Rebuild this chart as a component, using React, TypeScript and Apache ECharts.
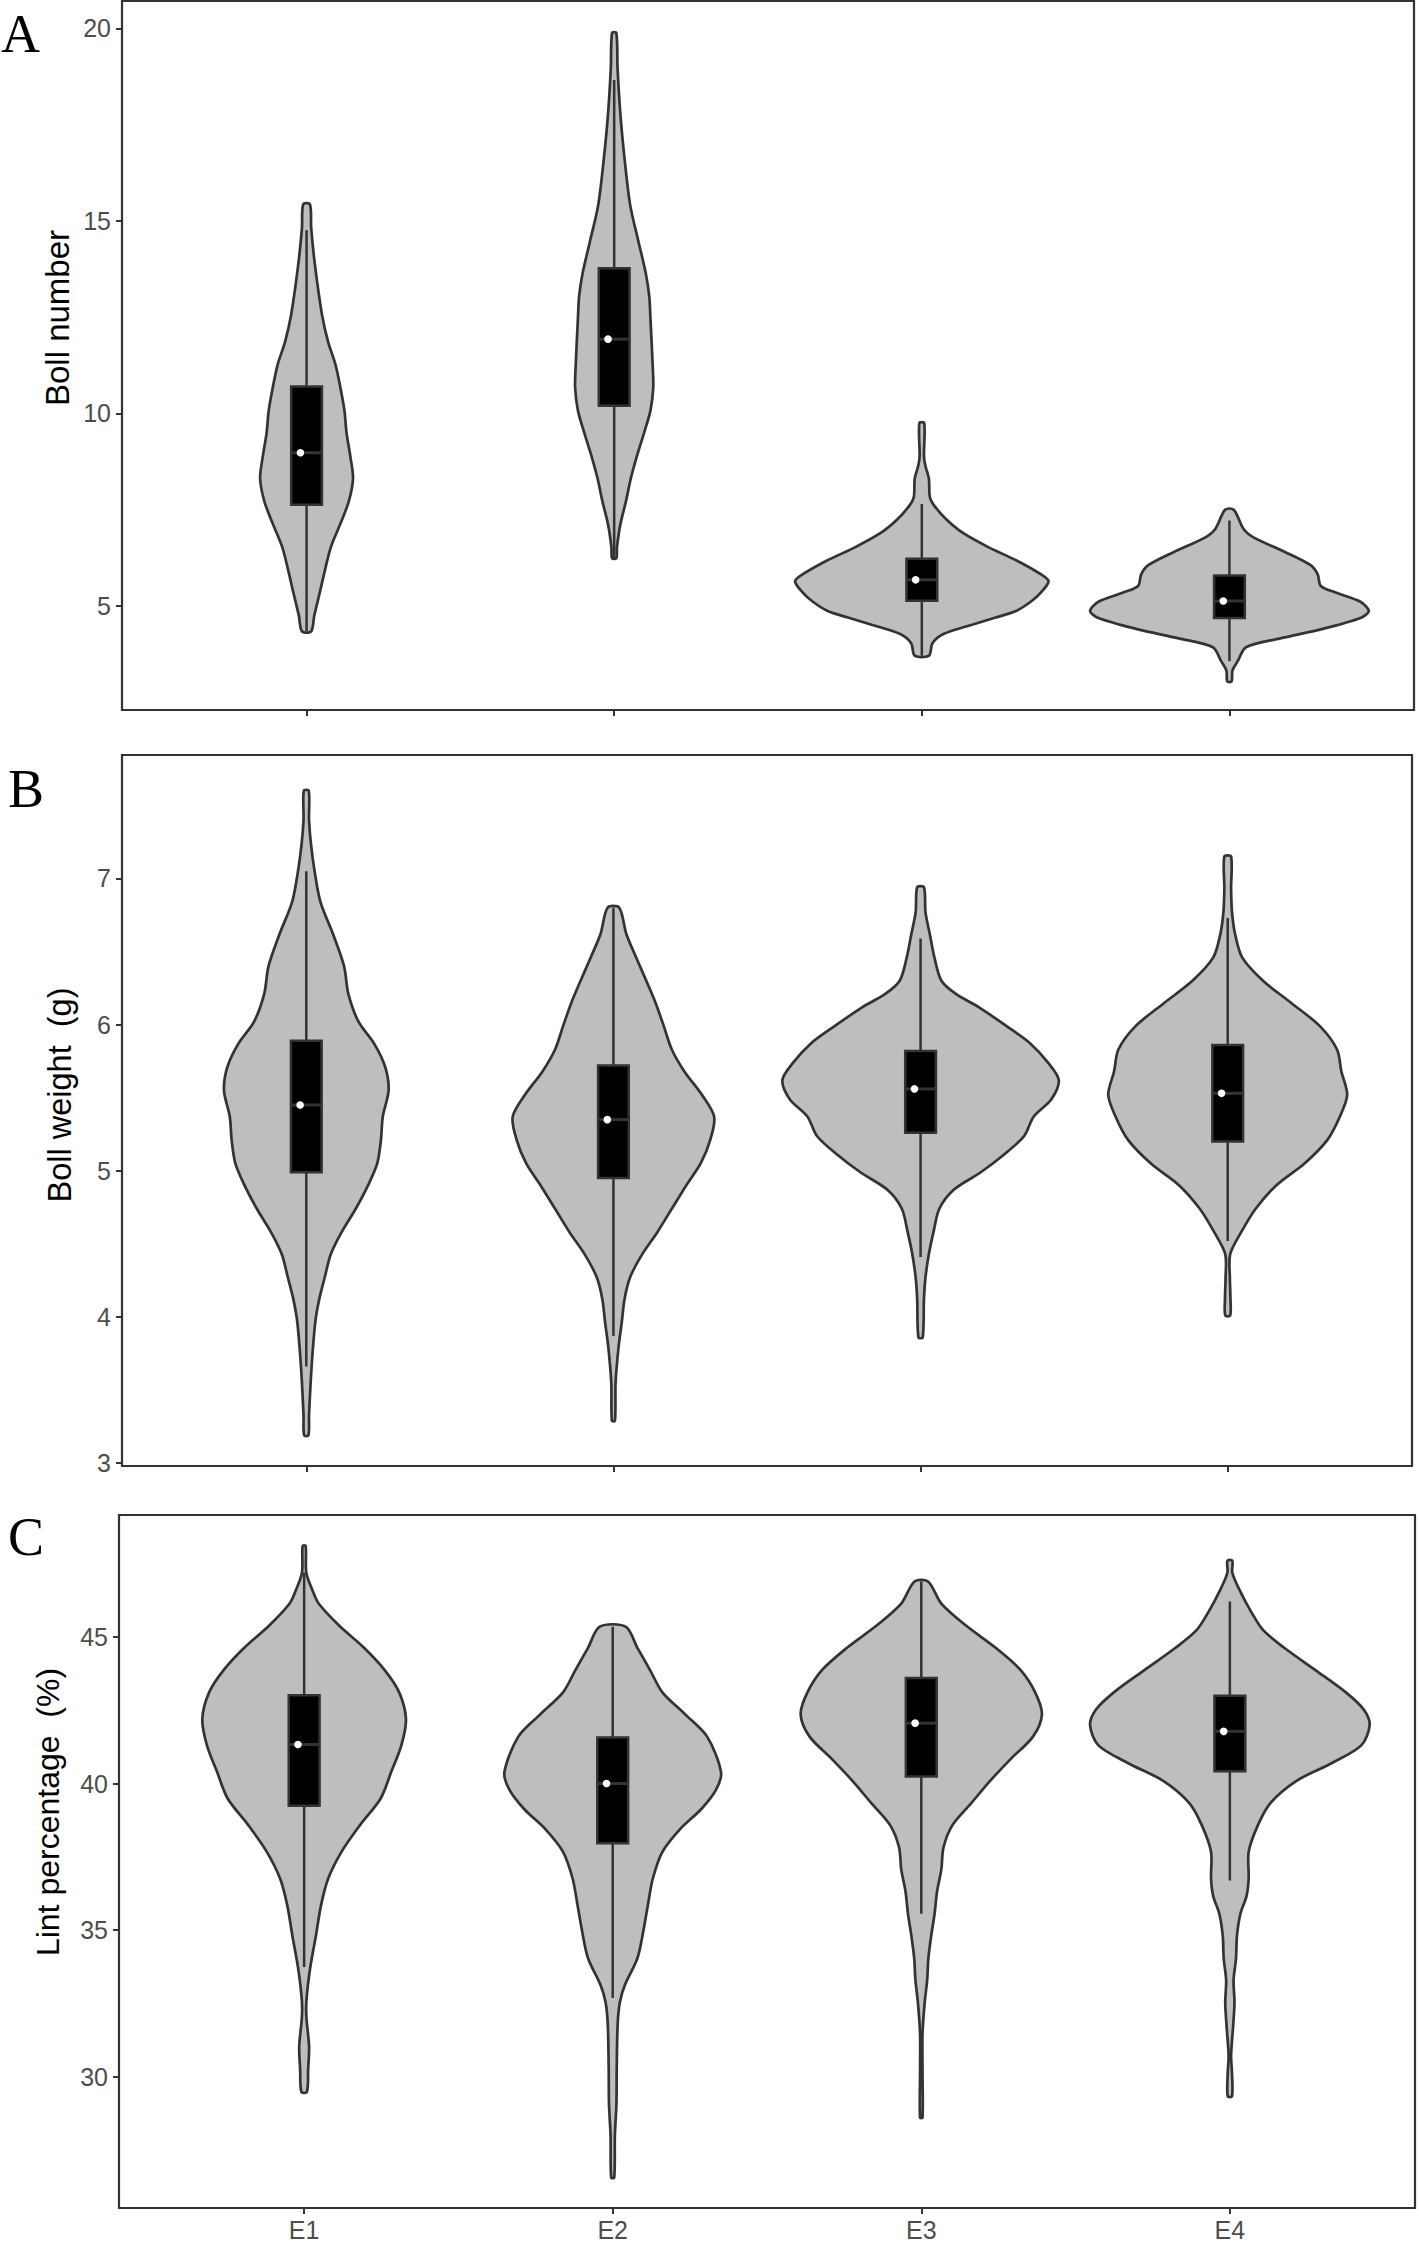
import React, { useEffect, useRef } from "react";
import * as echarts from "echarts";

// ---------- categories & ticks ----------
const categories = ["E1", "E2", "E3", "E4"];
const categoryPositions = [1, 2, 3, 4];

const bollNumberTicks = [5, 10, 15, 20];
const bollWeightTicks = [3, 4, 5, 6, 7];
const lintTicks = [30, 35, 40, 45];

const bollNumberRange = [2.3, 20.71];
const bollWeightRange = [2.98, 7.845];
const lintRange = [25.52, 49.16];

// ---------- violin outlines: [value, half-width in category units] ----------
// Panel A: Boll number
const bollNumberE1 = [
  [15.43, 0.011], [14.82, 0.015], [13.87, 0.027], [12.57, 0.05], [11.86, 0.07], [11.27, 0.094],
  [10.67, 0.11], [10.08, 0.123], [9.49, 0.13], [8.9, 0.142], [8.31, 0.151], [7.71, 0.137],
  [7.12, 0.109], [6.53, 0.079], [5.94, 0.06], [5.35, 0.043], [4.75, 0.025], [4.34, 0.015],
];
const bollNumberE2 = [
  [19.88, 0.007], [18.96, 0.011], [17.78, 0.02], [16.59, 0.034], [15.41, 0.052], [14.46, 0.079],
  [13.63, 0.103], [13.04, 0.114], [12.45, 0.118], [11.27, 0.125], [10.67, 0.127], [10.08, 0.118],
  [9.49, 0.097], [8.9, 0.074], [8.31, 0.054], [7.71, 0.038], [7.12, 0.02], [6.53, 0.009], [6.24, 0.007],
];
const bollNumberE3 = [
  [9.75, 0.008], [8.9, 0.007], [8.66, 0.011], [8.31, 0.023], [7.83, 0.026], [7.6, 0.041],
  [7.24, 0.081], [6.89, 0.135], [6.53, 0.216], [6.17, 0.311], [5.82, 0.388], [5.64, 0.412],
  [5.35, 0.387], [5.11, 0.354], [4.87, 0.306], [4.7, 0.24], [4.52, 0.166], [4.28, 0.072],
  [4.04, 0.035], [3.71, 0.023],
];
const bollNumberE4 = [
  [7.5, 0.014], [7.0, 0.046], [6.77, 0.081], [6.41, 0.179], [6.06, 0.264], [5.82, 0.287],
  [5.52, 0.297], [5.35, 0.345], [5.11, 0.426], [4.87, 0.453], [4.69, 0.426], [4.4, 0.3],
  [4.16, 0.165], [3.93, 0.054], [3.57, 0.027], [3.33, 0.01], [3.04, 0.007],
];

// Panel B: Boll weight (g)
const bollWeightE1 = [
  [7.6, 0.008], [7.4, 0.009], [7.24, 0.015], [7.05, 0.027], [6.84, 0.046], [6.62, 0.087],
  [6.4, 0.123], [6.21, 0.137], [6.02, 0.17], [5.87, 0.221], [5.71, 0.257], [5.55, 0.268],
  [5.37, 0.249], [5.21, 0.243], [5.05, 0.231], [4.9, 0.201], [4.74, 0.161], [4.58, 0.115],
  [4.43, 0.08], [4.27, 0.06], [4.12, 0.042], [3.96, 0.029], [3.65, 0.017], [3.33, 0.009], [3.19, 0.007],
];
const bollWeightE2 = [
  [6.8, 0.019], [6.62, 0.042], [6.46, 0.074], [6.3, 0.107], [6.15, 0.137], [5.99, 0.164],
  [5.83, 0.19], [5.68, 0.231], [5.52, 0.288], [5.37, 0.328], [5.21, 0.315], [5.05, 0.284],
  [4.9, 0.237], [4.74, 0.19], [4.58, 0.143], [4.43, 0.094], [4.27, 0.054], [4.12, 0.036],
  [3.96, 0.027], [3.8, 0.017], [3.55, 0.007], [3.29, 0.005],
];
const bollWeightE3 = [
  [6.94, 0.011], [6.77, 0.016], [6.62, 0.03], [6.46, 0.045], [6.3, 0.068], [6.21, 0.115],
  [6.12, 0.189], [5.99, 0.28], [5.87, 0.358], [5.74, 0.415], [5.62, 0.45], [5.49, 0.426],
  [5.37, 0.368], [5.24, 0.338], [5.12, 0.277], [4.99, 0.196], [4.87, 0.108], [4.74, 0.061],
  [4.58, 0.042], [4.43, 0.027], [4.27, 0.016], [4.12, 0.011], [3.86, 0.007],
];
const bollWeightE4 = [
  [7.15, 0.011], [6.93, 0.011], [6.77, 0.014], [6.62, 0.024], [6.46, 0.047], [6.3, 0.115],
  [6.15, 0.206], [5.99, 0.3], [5.83, 0.356], [5.68, 0.37], [5.52, 0.389], [5.37, 0.365],
  [5.21, 0.324], [5.05, 0.25], [4.9, 0.158], [4.74, 0.091], [4.58, 0.044], [4.43, 0.008],
  [4.27, 0.007], [4.12, 0.009], [4.01, 0.008],
];

// Panel C: Lint percentage (%)
const lintE1 = [
  [48.1, 0.005], [47.19, 0.007], [46.59, 0.027], [46.14, 0.047], [45.38, 0.114], [44.63, 0.194],
  [43.87, 0.261], [43.11, 0.308], [42.2, 0.33], [41.3, 0.315], [40.39, 0.282], [39.49, 0.248],
  [38.58, 0.181], [37.67, 0.121], [36.76, 0.078], [35.86, 0.055], [34.8, 0.038], [33.74, 0.02],
  [32.68, 0.008], [32.08, 0.007], [31.02, 0.016], [30.26, 0.013], [29.48, 0.009],
];
const lintE2 = [
  [45.35, 0.042], [44.63, 0.08], [43.87, 0.121], [43.11, 0.161], [42.36, 0.235], [41.6, 0.306],
  [40.39, 0.351], [39.79, 0.335], [39.14, 0.288], [38.43, 0.217], [37.67, 0.161], [36.76, 0.13],
  [35.86, 0.114], [34.95, 0.099], [34.04, 0.08], [33.14, 0.04], [32.53, 0.023], [31.78, 0.016],
  [30.26, 0.013], [29.05, 0.012], [28.0, 0.007], [26.56, 0.005],
];
const lintE3 = [
  [46.89, 0.022], [46.14, 0.065], [45.38, 0.146], [44.63, 0.241], [43.87, 0.322], [43.11, 0.369],
  [42.36, 0.391], [41.6, 0.362], [40.85, 0.291], [40.09, 0.223], [39.33, 0.162], [38.58, 0.101],
  [37.82, 0.072], [37.07, 0.065], [36.31, 0.051], [35.55, 0.043], [34.8, 0.032], [34.04, 0.023],
  [33.29, 0.019], [32.53, 0.011], [31.47, 0.004], [30.11, 0.004], [28.6, 0.004],
];
const lintE4 = [
  [47.6, 0.008], [47.19, 0.008], [46.59, 0.032], [45.84, 0.07], [45.23, 0.108], [44.63, 0.176],
  [43.87, 0.277], [43.11, 0.376], [42.51, 0.435], [41.98, 0.453], [41.3, 0.426], [40.7, 0.331],
  [40.09, 0.216], [39.34, 0.132], [38.58, 0.091], [37.67, 0.061], [36.76, 0.061], [36.16, 0.054],
  [35.55, 0.034], [34.8, 0.023], [34.04, 0.02], [33.29, 0.012], [32.53, 0.015], [31.78, 0.011],
  [30.72, 0.004], [30.11, 0.007], [29.33, 0.007],
];

// ---------- box stats: [whiskerLow, q1, median, q3, whiskerHigh] ----------
const bollNumberBox = [
  [4.34, 7.63, 8.98, 10.7, 14.76],
  [6.24, 10.2, 11.93, 13.77, 18.66],
  [3.71, 5.14, 5.68, 6.23, 7.65],
  [3.57, 4.69, 5.13, 5.79, 7.22],
];
const bollWeightBox = [
  [3.66, 4.99, 5.45, 5.89, 7.05],
  [3.87, 4.95, 5.35, 5.72, 6.8],
  [4.41, 5.26, 5.56, 5.82, 6.59],
  [4.52, 5.2, 5.53, 5.86, 6.73],
];
const lintBox = [
  [33.74, 39.24, 41.33, 43.01, 47.19],
  [32.68, 37.96, 40.0, 41.57, 45.35],
  [35.56, 40.24, 42.06, 43.6, 46.89],
  [36.69, 40.42, 41.78, 42.99, 46.21],
];

const yTitles = ["Boll number", "Boll weight  (g)", "Lint percentage  (%)"];
const panelLetters = ["A", "B", "C"];

// ---------- styling / layout ----------
const VIOLIN_FILL = "#bebebe";
const LINE_COLOR = "#333333";
const LABEL_COLOR = "#4d4d4d";
const BOX_HALF = 0.05;
const DOT_OFFSET = -0.02;

const gridLayout = [
  { left: 122, top: 1, width: 1292, height: 709 },
  { left: 122, top: 755, width: 1290, height: 711 },
  { left: 119, top: 1515, width: 1296, height: 693 },
];

export default function App() {
  const ref = useRef<HTMLDivElement>(null);

  useEffect(() => {
    if (!ref.current) return;
    const chart = echarts.init(ref.current, null, { renderer: "svg" });

    const panels = [
      { outlines: [bollNumberE1, bollNumberE2, bollNumberE3, bollNumberE4], box: bollNumberBox, range: bollNumberRange, ticks: bollNumberTicks },
      { outlines: [bollWeightE1, bollWeightE2, bollWeightE3, bollWeightE4], box: bollWeightBox, range: bollWeightRange, ticks: bollWeightTicks },
      { outlines: [lintE1, lintE2, lintE3, lintE4], box: lintBox, range: lintRange, ticks: lintTicks },
    ];

    const grid = gridLayout.map((g) => ({
      ...g,
      show: true,
      borderColor: LINE_COLOR,
      borderWidth: 2.2,
      backgroundColor: "#ffffff",
      containLabel: false,
    }));

    const xAxis = panels.map((_, p) => ({
      gridIndex: p,
      type: "value",
      min: 0.4,
      max: 4.6,
      splitLine: { show: false },
      axisLine: { show: false },
      axisTick: {
        show: true,
        customValues: categoryPositions,
        length: 6,
        lineStyle: { color: LINE_COLOR, width: 2 },
      },
      axisLabel: {
        show: p === 2,
        customValues: categoryPositions,
        formatter: (v: number) => categories[Math.round(v) - 1] ?? "",
        fontFamily: "Liberation Sans",
        fontSize: 25,
        color: LABEL_COLOR,
        margin: 9,
      },
    }));

    const yAxis = panels.map((pn, p) => ({
      gridIndex: p,
      type: "value",
      min: pn.range[0],
      max: pn.range[1],
      splitLine: { show: false },
      axisLine: { show: false },
      axisTick: {
        show: true,
        customValues: pn.ticks,
        length: 6,
        lineStyle: { color: LINE_COLOR, width: 2 },
      },
      axisLabel: {
        customValues: pn.ticks,
        fontFamily: "Liberation Sans",
        fontSize: 25,
        color: LABEL_COLOR,
        margin: 11,
      },
    }));

    const series: any[] = [];
    panels.forEach((pn, p) => {
      series.push({
        type: "custom",
        name: "violin" + p,
        xAxisIndex: p,
        yAxisIndex: p,
        silent: true,
        z: 2,
        data: pn.box.map((b, i) => [categoryPositions[i], b[2]]),
        encode: { x: 0, y: 1 },
        renderItem: (params: any, api: any) => {
          const i = params.dataIndex;
          const cat = api.value(0);
          const outline = pn.outlines[i];
          const pts: number[][] = [];
          for (let k = 0; k < outline.length; k++) {
            pts.push(api.coord([cat + outline[k][1], outline[k][0]]));
          }
          for (let k = outline.length - 1; k >= 0; k--) {
            pts.push(api.coord([cat - outline[k][1], outline[k][0]]));
          }
          return {
            type: "polygon",
            shape: { points: pts, smooth: 0.3 },
            style: { fill: VIOLIN_FILL, stroke: LINE_COLOR, lineWidth: 2.7 },
          };
        },
      });
      series.push({
        type: "custom",
        name: "box" + p,
        xAxisIndex: p,
        yAxisIndex: p,
        silent: true,
        z: 3,
        data: pn.box.map((b, i) => [categoryPositions[i], ...b]),
        encode: { x: 0, y: [1, 2, 3, 4, 5] },
        renderItem: (params: any, api: any) => {
          const cat = api.value(0);
          const lo = api.value(1);
          const q1 = api.value(2);
          const med = api.value(3);
          const q3 = api.value(4);
          const hi = api.value(5);
          const pLo = api.coord([cat, lo]);
          const pHi = api.coord([cat, hi]);
          const tl = api.coord([cat - BOX_HALF, q3]);
          const br = api.coord([cat + BOX_HALF, q1]);
          const mL = api.coord([cat - BOX_HALF, med]);
          const mR = api.coord([cat + BOX_HALF, med]);
          const dot = api.coord([cat + DOT_OFFSET, med]);
          return {
            type: "group",
            children: [
              { type: "line", shape: { x1: pLo[0], y1: pLo[1], x2: pHi[0], y2: pHi[1] }, style: { stroke: LINE_COLOR, lineWidth: 2.5 } },
              { type: "rect", shape: { x: tl[0], y: tl[1], width: br[0] - tl[0], height: br[1] - tl[1] }, style: { fill: "#000000", stroke: LINE_COLOR, lineWidth: 2.5 } },
              { type: "line", shape: { x1: mL[0], y1: mL[1], x2: mR[0], y2: mR[1] }, style: { stroke: LINE_COLOR, lineWidth: 3 } },
              { type: "circle", shape: { cx: dot[0], cy: dot[1], r: 3.8 }, style: { fill: "#ffffff" } },
            ],
          };
        },
      });
    });

    const titlePos = [
      { x: 57, y: 318, size: 33 },
      { x: 60, y: 1095, size: 32.5 },
      { x: 48, y: 1812, size: 32 },
    ];
    const letterPos = [
      { x: 1, y: 34 },
      { x: 8, y: 789 },
      { x: 8, y: 1537 },
    ];

    const graphic: any[] = [];
    yTitles.forEach((t, i) => {
      graphic.push({
        type: "text",
        x: titlePos[i].x,
        y: titlePos[i].y,
        rotation: Math.PI / 2,
        silent: true,
        style: {
          text: t,
          fontFamily: "Liberation Sans",
          fontSize: titlePos[i].size,
          fill: "#000000",
          align: "center",
          verticalAlign: "middle",
          textAlign: "center",
          textVerticalAlign: "middle",
        },
      });
    });
    panelLetters.forEach((l, i) => {
      graphic.push({
        type: "text",
        x: letterPos[i].x,
        y: letterPos[i].y,
        silent: true,
        style: {
          text: l,
          fontFamily: "Liberation Serif",
          fontSize: 54,
          fill: "#000000",
          align: "left",
          verticalAlign: "middle",
          textAlign: "left",
          textVerticalAlign: "middle",
        },
      });
    });

    chart.setOption({
      animation: false,
      backgroundColor: "#ffffff",
      grid,
      xAxis,
      yAxis,
      series,
      graphic,
    });

    return () => {
      chart.dispose();
    };
  }, []);

  return (
    <div
      ref={ref}
      style={{ position: "absolute", left: 0, top: 0, width: 1419, height: 2248 }}
    />
  );
}
